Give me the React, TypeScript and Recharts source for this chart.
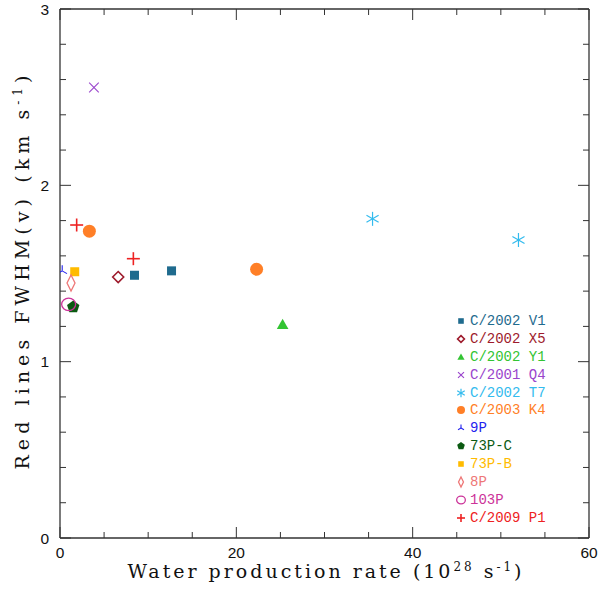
import React from 'react';
import { ScatterChart, Scatter, XAxis, YAxis, Legend, Label, ReferenceLine } from 'recharts';

// ---------- data ----------
const seriesNames = [
  'C/2002 V1', 'C/2002 X5', 'C/2002 Y1', 'C/2001 Q4', 'C/2002 T7', 'C/2003 K4',
  '9P', '73P-C', '73P-B', '8P', '103P', 'C/2009 P1',
];
const seriesColors = [
  '#1f6b8e', '#9e1b2c', '#33c433', '#9a45cc', '#33bbee', '#ff7f27',
  '#2222ee', '#0b5a12', '#ffbb00', '#ee7777', '#cc3399', '#ee2222',
];
const seriesShapes = [
  'square', 'diamond', 'triangle', 'cross', 'asterisk', 'circle',
  'tri', 'pentagon', 'square', 'longDiamond', 'openCircle', 'plus',
];

const v1 = [{ x: 8.45, y: 1.49 }, { x: 12.65, y: 1.515 }];
const x5 = [{ x: 6.6, y: 1.48 }];
const y1 = [{ x: 25.25, y: 1.21 }];
const q4 = [{ x: 3.85, y: 2.555 }];
const t7 = [{ x: 35.45, y: 1.81 }, { x: 52.0, y: 1.69 }];
const k4 = [{ x: 3.33, y: 1.74 }, { x: 22.3, y: 1.524 }];
const p9 = [{ x: 0.25, y: 1.515 }];
const p73c = [{ x: 1.5, y: 1.31 }];
const p73b = [{ x: 1.67, y: 1.51 }];
const p8 = [{ x: 1.25, y: 1.446 }];
const p103 = [{ x: 0.98, y: 1.325 }];
const p1 = [{ x: 1.89, y: 1.775 }, { x: 8.32, y: 1.584 }];

const seriesData = [v1, x5, y1, q4, t7, k4, p9, p73c, p73b, p8, p103, p1];

const xMinorTicks = [0, 5, 10, 15, 20, 25, 30, 35, 40, 45, 50, 55, 60];
const xMajorTicks = [0, 20, 40, 60];
const yMinorTicks = [0, 0.2, 0.4, 0.6, 0.8, 1, 1.2, 1.4, 1.6, 1.8, 2, 2.2, 2.4, 2.6, 2.8, 3];
const yMajorTicks = [0, 1, 2, 3];

// ---------- drawing helpers ----------
const FRAME = '#333';
const TICK_FONT = '"Liberation Sans", Arial, sans-serif';
const TITLE_FONT = '"DejaVu Serif", "Liberation Serif", serif';
const LEGEND_FONT = '"Liberation Mono", "DejaVu Sans Mono", monospace';
const MAJOR_LEN = 11;
const MINOR_LEN = 6;

function Marker({ kind, color, cx, cy, s }: { kind: string; color: string; cx: number; cy: number; s: number }) {
  switch (kind) {
    case 'square':
      return <rect x={cx - 4.5 * s} y={cy - 4.5 * s} width={9 * s} height={9 * s} fill={color} />;
    case 'diamond': {
      const r = 5.5 * s;
      return <polygon points={`${cx},${cy - r} ${cx + r},${cy} ${cx},${cy + r} ${cx - r},${cy}`} fill="none" stroke={color} strokeWidth={1.6} />;
    }
    case 'triangle': {
      const r = 5.8 * s;
      return <polygon points={`${cx},${cy - r} ${cx + r},${cy + r * 0.75} ${cx - r},${cy + r * 0.75}`} fill={color} />;
    }
    case 'cross': {
      const r = 4.8 * s;
      return (
        <g stroke={color} strokeWidth={1.1}>
          <line x1={cx - r} y1={cy - r} x2={cx + r} y2={cy + r} />
          <line x1={cx - r} y1={cy + r} x2={cx + r} y2={cy - r} />
        </g>
      );
    }
    case 'asterisk': {
      const r = 7 * s;
      const dx = r * Math.cos(Math.PI / 6);
      const dy = r * Math.sin(Math.PI / 6);
      return (
        <g stroke={color} strokeWidth={1.2}>
          <line x1={cx} y1={cy - r} x2={cx} y2={cy + r} />
          <line x1={cx - dx} y1={cy - dy} x2={cx + dx} y2={cy + dy} />
          <line x1={cx - dx} y1={cy + dy} x2={cx + dx} y2={cy - dy} />
        </g>
      );
    }
    case 'circle':
      return <circle cx={cx} cy={cy} r={6.5 * s} fill={color} />;
    case 'tri': {
      const r = 5.5 * s;
      const dx = r * Math.cos(Math.PI / 6);
      const dy = r * Math.sin(Math.PI / 6);
      return (
        <g stroke={color} strokeWidth={1.1} fill="none">
          <line x1={cx} y1={cy} x2={cx} y2={cy - r} />
          <line x1={cx} y1={cy} x2={cx - dx} y2={cy + dy} />
          <line x1={cx} y1={cy} x2={cx + dx} y2={cy + dy} />
        </g>
      );
    }
    case 'pentagon': {
      const r = 6.5 * s;
      const pts = [0, 1, 2, 3, 4]
        .map((i) => {
          const a = -Math.PI / 2 + (i * 2 * Math.PI) / 5;
          return `${cx + r * Math.cos(a)},${cy + r * Math.sin(a)}`;
        })
        .join(' ');
      return <polygon points={pts} fill={color} />;
    }
    case 'longDiamond': {
      const w = 4 * s;
      const h = 8 * s;
      return <polygon points={`${cx},${cy - h} ${cx + w},${cy} ${cx},${cy + h} ${cx - w},${cy}`} fill="none" stroke={color} strokeWidth={1.3} />;
    }
    case 'openCircle':
      return <ellipse cx={cx} cy={cy} rx={7 * s} ry={6.2 * s} fill="none" stroke={color} strokeWidth={1.3} />;
    case 'plus': {
      const r = 6.5 * s;
      return (
        <g stroke={color} strokeWidth={1.6}>
          <line x1={cx - r} y1={cy} x2={cx + r} y2={cy} />
          <line x1={cx} y1={cy - r} x2={cx} y2={cy + r} />
        </g>
      );
    }
    default:
      return null;
  }
}

const makeShape = (kind: string, color: string) => (props: any) => {
  const { cx, cy } = props;
  if (cx == null || cy == null) return <g />;
  return <Marker kind={kind} color={color} cx={cx} cy={cy} s={1} />;
};

// Inward tick stubs on both ends of a full-height / full-width reference line
const VerticalStubs = (len: number) => (props: any) => {
  const { x1, y1, y2 } = props;
  const top = Math.min(y1, y2);
  const bottom = Math.max(y1, y2);
  return (
    <g stroke={FRAME} strokeWidth={1}>
      <line x1={x1} y1={bottom} x2={x1} y2={bottom - len} />
      <line x1={x1} y1={top} x2={x1} y2={top + len} />
    </g>
  );
};
const HorizontalStubs = (len: number) => (props: any) => {
  const { x1, x2, y1 } = props;
  const left = Math.min(x1, x2);
  const right = Math.max(x1, x2);
  return (
    <g stroke={FRAME} strokeWidth={1}>
      <line x1={left} y1={y1} x2={left + len} y2={y1} />
      <line x1={right} y1={y1} x2={right - len} y2={y1} />
    </g>
  );
};

const XTitle = (props: any) => {
  const { viewBox } = props;
  const cx = viewBox.x + viewBox.width / 2;
  return (
    <text x={cx} y={viewBox.y + 40} textAnchor="middle" fontSize={19} fontFamily={TITLE_FONT} fill="#111" textLength={394} lengthAdjust="spacing">
      Water production rate (10
      <tspan fontSize={12} dy={-7}>28</tspan>
      <tspan dy={7}> s</tspan>
      <tspan fontSize={12} dy={-7}>-1</tspan>
      <tspan dy={7}>)</tspan>
    </text>
  );
};

const YTitle = (props: any) => {
  const { viewBox } = props;
  const cy = viewBox.y + viewBox.height / 2 - 1;
  const x = 29;
  return (
    <text x={x} y={cy} transform={`rotate(-90 ${x} ${cy})`} textAnchor="middle" fontSize={19} fontFamily={TITLE_FONT} fill="#111" textLength={394} lengthAdjust="spacing">
      Red lines FWHM(v) (km s
      <tspan fontSize={12} dy={-7}>-1</tspan>
      <tspan dy={7}>)</tspan>
    </text>
  );
};

const LegendContent = () => (
  <div style={{ fontFamily: LEGEND_FONT, fontSize: 14 }}>
    {seriesNames.map((name, i) => (
      <div key={name} style={{ height: 17.9, display: 'flex', alignItems: 'center', whiteSpace: 'pre' }}>
        <svg width={14} height={16} style={{ display: 'block' }}>
          <Marker kind={seriesShapes[i]} color={seriesColors[i]} cx={6} cy={8} s={0.62} />
        </svg>
        <span style={{ color: seriesColors[i], marginLeft: 1 }}>{name}</span>
      </div>
    ))}
  </div>
);

const tickTextStyle = { fontSize: 15.5, fontFamily: TICK_FONT, fill: '#111' };
const frameStyle = { stroke: FRAME, strokeWidth: 1.3 };

const isMajor = (v: number, majors: number[]) => majors.some((m) => Math.abs(m - v) < 1e-6);

export default function App() {
  return (
    <div style={{ position: 'absolute', left: 0, top: 0, width: 600, height: 596, background: '#fff' }}>
      <ScatterChart width={600} height={596} margin={{ top: 4, right: 6, bottom: 0, left: 0 }}>
        <XAxis xAxisId="b" type="number" dataKey="x" orientation="bottom" domain={[0, 60]} ticks={xMajorTicks}
          interval={0} height={58} tickSize={0} tickMargin={9} tickLine={false} tick={tickTextStyle}
          axisLine={frameStyle} allowDataOverflow>
          <Label content={<XTitle />} />
        </XAxis>
        <XAxis xAxisId="t" type="number" dataKey="x" orientation="top" domain={[0, 60]} ticks={xMajorTicks}
          interval={0} height={5} tickSize={0} tickLine={false} tick={false} axisLine={frameStyle} allowDataOverflow />
        <YAxis yAxisId="l" type="number" dataKey="y" orientation="left" domain={[0, 3]} ticks={yMajorTicks}
          interval={0} width={60} tickSize={0} tickMargin={11} tickLine={false} tick={tickTextStyle}
          axisLine={frameStyle} allowDataOverflow>
          <Label content={<YTitle />} />
        </YAxis>
        <YAxis yAxisId="r" type="number" dataKey="y" orientation="right" domain={[0, 3]} ticks={yMajorTicks}
          interval={0} width={5} tickSize={0} tickLine={false} tick={false} axisLine={frameStyle} allowDataOverflow />

        {xMinorTicks.map((v) => (
          <ReferenceLine key={`xt${v}`} xAxisId="b" yAxisId="l" x={v} ifOverflow="visible"
            shape={VerticalStubs(isMajor(v, xMajorTicks) ? MAJOR_LEN : MINOR_LEN)} />
        ))}
        {yMinorTicks.map((v) => (
          <ReferenceLine key={`yt${v}`} xAxisId="b" yAxisId="l" y={v} ifOverflow="visible"
            shape={HorizontalStubs(isMajor(v, yMajorTicks) ? MAJOR_LEN : MINOR_LEN)} />
        ))}

        {seriesData.map((d, i) => (
          <Scatter
            key={seriesNames[i]}
            name={seriesNames[i]}
            data={d}
            xAxisId="b"
            yAxisId="l"
            fill={seriesColors[i]}
            shape={makeShape(seriesShapes[i], seriesColors[i])}
            isAnimationActive={false}
          />
        ))}
        <Legend
          layout="vertical"
          align="center"
          verticalAlign="middle"
          content={<LegendContent />}
          wrapperStyle={{ position: 'absolute', left: 455, top: 312, width: 140, height: 'auto' }}
        />
      </ScatterChart>
    </div>
  );
}
